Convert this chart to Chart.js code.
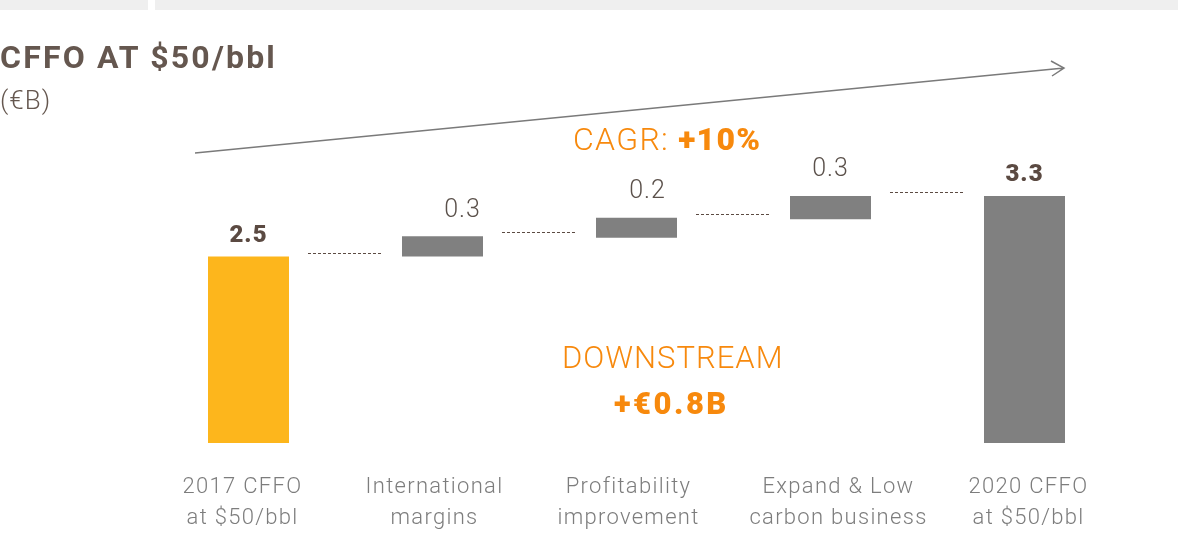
<!DOCTYPE html>
<html>
<head>
<meta charset="utf-8">
<script src="https://cdn.jsdelivr.net/npm/chart.js@4.4.1/dist/chart.umd.min.js"></script>
<style>
  html, body { margin: 0; padding: 0; background: #fff; overflow: hidden; }
  body { width: 1178px; height: 549px; position: relative; font-family: Roboto, "Open Sans", sans-serif; }
  .strip { position: absolute; top: 0; height: 10px; background: #efefef; }
  #wrap { position: absolute; left: 0; top: 0; width: 1178px; height: 549px; }
  .txt { position: absolute; white-space: nowrap; line-height: 1; }
  #title { left: 0; top: 41px; font-size: 32px; font-weight: 700; color: #65574f; letter-spacing: 2.2px; }
  #unit { left: 0; top: 87px; font-size: 26px; font-weight: 300; color: #65574f; letter-spacing: 1px; }
  #cagr { left: 573px; top: 123px; font-size: 32px; font-weight: 300; color: #f7890d; letter-spacing: 1.3px; }
  #cagr b { font-weight: 900; }
  #down { left: 562px; top: 342px; font-size: 31px; font-weight: 300; color: #f7890d; letter-spacing: 1px; }
  #plus { left: 614px; top: 388px; font-size: 31px; font-weight: 900; color: #f7890d; letter-spacing: 2.5px; }
</style>
</head>
<body>
<div class="strip" style="left:0;width:148px"></div>
<div class="strip" style="left:155px;width:1023px"></div>
<div id="wrap"><canvas id="waterfall"></canvas></div>
<div class="txt" id="title">CFFO AT $50/bbl</div>
<div class="txt" id="unit">(€B)</div>
<div class="txt" id="cagr">CAGR: <b>+10%</b></div>
<div class="txt" id="down">DOWNSTREAM</div>
<div class="txt" id="plus">+€0.8B</div>
<script>
// ---- data ----
const categories = [
    ["2017 CFFO", "at $50/bbl"],
    ["International", "margins"],
    ["Profitability", "improvement"],
    ["Expand & Low", "carbon business"],
    ["2020 CFFO", "at $50/bbl"]
];
const barStart = [0, 2.5, 2.75, 3.0, 0];
const barEnd = [2.5, 2.77, 3.02, 3.31, 3.31];
const valueLabels = ["2.5", "0.3", "0.2", "0.3", "3.3"];
const isTotal = [true, false, false, false, true];

const barColors = ["#fdb61c", "#808080", "#808080", "#808080", "#808080"];
const labelShift = [0, 20, 11, 0, 0];
const categoryShift = [-6, -8, -8, 8, 4];

const waterfallDecor = {
    id: 'waterfallDecor',
    afterDatasetsDraw(chart) {
        const { ctx, scales: { x, y } } = chart;
        const meta = chart.getDatasetMeta(0);
        ctx.save();

        // dashed connectors between bars
        ctx.strokeStyle = "#5b4a42";
        ctx.lineWidth = 1;
        ctx.setLineDash([3, 2]);
        for (let i = 0; i < categories.length - 1; i++) {
            const a = meta.data[i], b = meta.data[i + 1];
            const yy = Math.round(y.getPixelForValue(barEnd[i])) - 3.5;
            ctx.beginPath();
            ctx.moveTo(a.x + a.width / 2 + 19, yy);
            ctx.lineTo(b.x - b.width / 2 - 21, yy);
            ctx.stroke();
        }
        ctx.setLineDash([]);

        // value labels
        ctx.textAlign = "center";
        ctx.textBaseline = "middle";
        meta.data.forEach((bar, i) => {
            if (isTotal[i]) {
                ctx.font = "900 24px Roboto";
                ctx.letterSpacing = "1px";
                ctx.fillStyle = "#5b4a42";
                ctx.fillText(valueLabels[i], bar.x + labelShift[i], y.getPixelForValue(barEnd[i]) - 21);
            } else {
                ctx.font = "300 25px Roboto";
                ctx.letterSpacing = "1px";
                ctx.fillStyle = "#5b514b";
                ctx.fillText(valueLabels[i], bar.x + labelShift[i], y.getPixelForValue(barEnd[i]) - 26);
            }
        });

        // category labels
        ctx.font = "300 22px Roboto";
        ctx.letterSpacing = "1.3px";
        ctx.fillStyle = "#7d7d7d";
        categories.forEach((lines, i) => {
            const cx = x.getPixelForValue(i) + categoryShift[i];
            lines.forEach((t, k) => ctx.fillText(t, cx, 487 + k * 31));
        });
        ctx.letterSpacing = "0px";

        // growth arrow
        ctx.strokeStyle = "#7a7a7a";
        ctx.lineWidth = 1.5;
        ctx.beginPath();
        ctx.moveTo(195, 153);
        ctx.lineTo(1064, 68);
        ctx.moveTo(1051, 61);
        ctx.lineTo(1064, 68);
        ctx.lineTo(1052, 76);
        ctx.stroke();

        ctx.restore();
    }
};

new Chart(document.getElementById("waterfall"), {
    type: "bar",
    data: {
        labels: categories.map(c => c.join(" ")),
        datasets: [{
            data: barStart.map((s, i) => [s, barEnd[i]]),
            backgroundColor: barColors,
            borderWidth: 0,
            categoryPercentage: 1,
            barPercentage: 0.4175
        }]
    },
    options: {
        responsive: true, maintainAspectRatio: false,
        animation: false,
        layout: { padding: { left: 151.5, right: 56.5, top: 144.6, bottom: 106 } },
        plugins: { legend: { display: false }, tooltip: { enabled: false } },
        scales: {
            x: { display: false },
            y: { display: false, min: 0, max: 4 }
        }
    },
    plugins: [waterfallDecor]
});
</script>
</body>
</html>
